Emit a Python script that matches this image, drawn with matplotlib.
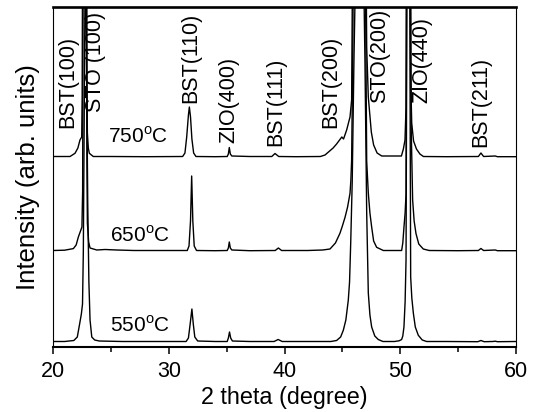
import matplotlib
matplotlib.use("Agg")
import matplotlib.pyplot as plt
from matplotlib.ticker import MultipleLocator

plt.rcParams['font.family'] = ['Liberation Sans', 'DejaVu Sans']
plt.rcParams['mathtext.fontset'] = 'custom'
plt.rcParams['mathtext.rm'] = 'Liberation Sans'

# XRD scans: (2 theta, intensity above own baseline)
# peaks that run off the top are given a large height and get clipped
scan_550 = [(20.0, 0.5), (21.0, 0.5), (21.8, 1.5), (22.1, 5), (22.3, 18), (22.45, 28),
            (22.55, 38), (22.62, 90), (22.8, 410), (23.0, 140), (23.1, 60), (23.2, 22),
            (23.35, 5), (23.6, 2), (24.0, 1), (26.0, 0.5), (28.0, 0.5), (30.0, 0.5),
            (31.5, 0.5), (31.7, 4), (31.85, 18), (32.0, 33), (32.12, 18), (32.25, 5),
            (32.5, 1), (34.0, 0.5), (35.05, 0.5), (35.15, 4), (35.25, 10), (35.35, 4),
            (35.5, 1), (37.0, 0.5), (39.1, 0.5), (39.45, 2.5), (39.8, 0.5), (42.0, 0.5),
            (44.0, 0.5), (44.5, 1.5), (44.85, 5), (45.08, 11.7), (45.3, 22), (45.51, 41.7),
            (45.62, 60), (45.72, 99), (45.85, 160), (46.0, 282), (46.52, 620), (46.95, 282),
            (47.1, 130), (47.24, 49), (47.38, 27), (47.53, 15), (47.8, 6), (48.1, 2.5),
            (48.5, 0.5), (49.5, 0.5), (49.9, 1.2), (50.12, 2.5), (50.22, 6), (50.32, 15),
            (50.42, 40), (50.5, 82), (50.7, 800), (50.9, 65), (51.0, 44), (51.13, 29),
            (51.3, 15), (51.56, 6.7), (51.9, 2), (52.28, 0.5), (54.0, 0.5), (56.7, 0.3),
            (56.97, 1.5), (57.25, 0.3), (58.0, 0.5), (58.2, 0.8), (58.4, 0.3), (60.0, 0.5)]

scan_650 = [(20.0, 0.5), (21.0, 0.8), (21.76, 2.4), (22.0, 6), (22.19, 14), (22.5, 24),
            (22.56, 60), (22.75, 1000), (22.93, 90), (22.97, 28), (23.08, 9), (23.2, 3),
            (23.78, 1), (24.5, 1.5), (25.5, 1), (27.0, 0.5), (30.0, 0.5), (31.6, 0.5),
            (31.75, 5), (31.88, 30), (31.98, 75), (32.08, 30), (32.2, 5), (32.4, 0.5),
            (34.0, 0.3), (35.05, 0.5), (35.15, 3), (35.23, 9), (35.32, 3), (35.45, 1),
            (37.0, 0.3), (39.2, 0.5), (39.47, 3), (39.75, 0.5), (42.0, 0.5), (43.3, 1),
            (43.93, 2), (44.4, 8), (44.79, 17.7), (45.0, 25), (45.23, 33.7), (45.45, 44),
            (45.66, 57.7), (45.73, 70), (45.8, 91), (45.9, 200), (46.45, 1200), (47.1, 90),
            (47.24, 58), (47.38, 38), (47.53, 24), (47.7, 10), (47.96, 3.7), (48.54, 0.5),
            (50.12, 0.5), (50.22, 8), (50.32, 23.7), (50.42, 38), (50.5, 57), (50.7, 900),
            (50.95, 120), (51.07, 51), (51.2, 30), (51.36, 17.4), (51.6, 7), (51.99, 2),
            (52.5, 0.5), (55.0, 0.3), (56.75, 0.5), (56.97, 2.5), (57.2, 0.5), (58.2, 1),
            (58.4, 0.3), (60.0, 0.3)]

scan_750 = [(20.0, 0.5), (21.0, 0.5), (21.47, 0.5), (21.9, 3.7), (22.15, 9), (22.33, 17),
            (22.48, 20), (22.52, 60), (22.75, 1000), (22.93, 80), (22.97, 24), (23.05, 9),
            (23.14, 3.7), (23.48, 0.5), (25.0, 0.5), (28.0, 0.3), (31.2, 0.5), (31.4, 4),
            (31.55, 20), (31.7, 42), (31.78, 50), (31.88, 40), (32.0, 18), (32.15, 4),
            (32.35, 0.5), (34.0, 0.3), (35.05, 0.5), (35.15, 3), (35.23, 9.5), (35.32, 3),
            (35.45, 1), (37.0, 0.5), (38.9, 0.5), (39.18, 3.5), (39.5, 0.5), (41.0, 0.3),
            (43.1, 0.5), (43.5, 2), (43.8, 5), (44.2, 9), (44.5, 13), (44.95, 20),
            (45.1, 18), (45.37, 27), (45.66, 40), (45.8, 57), (46.45, 1200), (47.1, 110),
            (47.24, 60), (47.5, 25), (47.7, 12), (48.0, 4), (48.4, 1), (50.1, 1),
            (50.27, 8), (50.41, 17), (50.5, 50), (50.7, 1000), (50.9, 80), (50.99, 34),
            (51.15, 16), (51.4, 8), (51.7, 3), (52.0, 0.5), (54.0, 0.3), (56.75, 0.5),
            (56.97, 4), (57.2, 0.5), (58.2, 1), (58.4, 0.3), (60.0, 0.3)]

scans = [scan_550, scan_650, scan_750]
offsets = [5, 96, 190]
temps = ["550", "650", "750"]
temp_x = [24.92, 24.92, 24.75]
temp_y = [15.3, 105.3, 204]

peak_names = ["BST(100)", "STO (100)", "BST(110)", "ZIO(400)", "BST(111)",
              "BST(200)", "STO(200)", "ZIO(440)", "BST(211)"]
peak_pos = [21.25, 23.7, 31.9, 35.2, 39.25, 44.0, 48.25, 51.85, 56.96]
peak_text_y = [219, 235, 244, 204, 201, 219, 244, 244, 200]

fig = plt.figure(figsize=(5.39, 4.12), dpi=100)
ax = fig.add_axes([53/539, 65/412, 463/539, 340/412])

for scan, off in zip(scans, offsets):
    xs = [p[0] for p in scan]
    ys = [p[1] + off for p in scan]
    ax.plot(xs, ys, color='black', lw=1.0)

for t, x, y in zip(temps, temp_x, temp_y):
    ax.text(x, y, t + r"$^{\mathrm{o}}$C", fontsize=15, ha='left', va='baseline')

for name, x, y in zip(peak_names, peak_pos, peak_text_y):
    ax.text(x, y, name, rotation=90, fontsize=15.5, ha='center', va='bottom')

ax.set_xlim(20, 60)
ax.set_ylim(0, 340)
ax.xaxis.set_major_locator(MultipleLocator(10))
ax.xaxis.set_minor_locator(MultipleLocator(5))
ax.tick_params(axis='x', which='major', direction='out', length=5, width=1.1,
               labelsize=15.5, pad=5)
ax.tick_params(axis='x', which='minor', direction='out', length=3.5, width=1.1)
ax.tick_params(axis='y', left=False, labelleft=False)
ax.spines['top'].set_linewidth(1.9)
ax.spines['bottom'].set_linewidth(1.5)
ax.spines['left'].set_linewidth(0.8)
ax.spines['right'].set_linewidth(0.8)

ax.set_xlabel("2 theta (degree)", fontsize=16.8, labelpad=3)
ax.set_ylabel("Intensity (arb. units)", fontsize=18.5, labelpad=9)

fig.savefig("out.png", dpi=100)
